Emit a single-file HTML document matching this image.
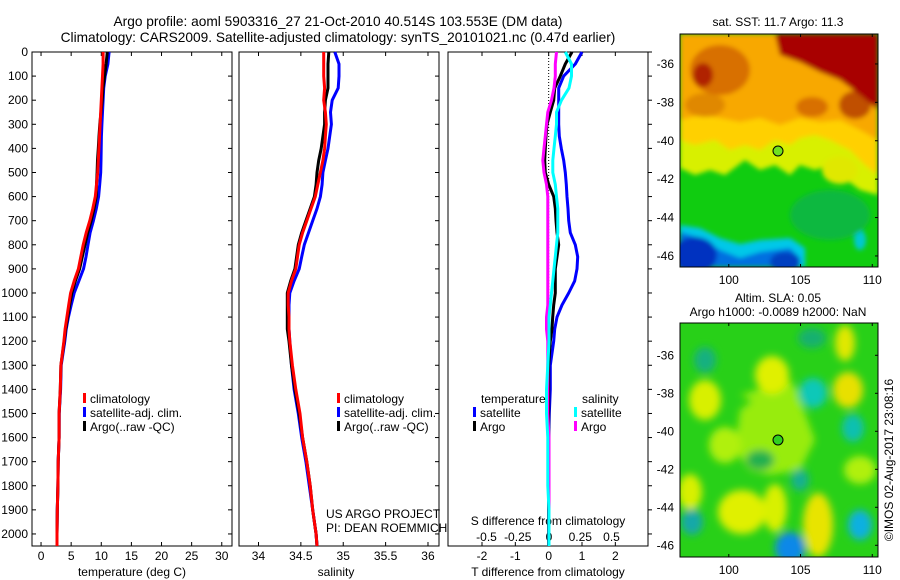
<!DOCTYPE html>
<html><head><meta charset="utf-8">
<style>
html,body{margin:0;padding:0;background:#fff;}
svg{display:block;font-family:"Liberation Sans",sans-serif;}
text{fill:#000;}
</style></head>
<body>
<svg id="fig" width="900" height="580" viewBox="0 0 900 580" xmlns="http://www.w3.org/2000/svg">
<defs>
<filter id="blur1" x="-10%" y="-10%" width="120%" height="120%"><feGaussianBlur stdDeviation="2.5"/></filter>
<filter id="blur2" x="-20%" y="-20%" width="140%" height="140%"><feGaussianBlur stdDeviation="4"/></filter>
<clipPath id="clipTop"><rect x="680" y="34" width="198" height="233"/></clipPath>
<clipPath id="clipBot"><rect x="680" y="323" width="198" height="234"/></clipPath>
</defs>
<text x="338" y="26" font-size="13.7" text-anchor="middle">Argo profile: aoml 5903316_27 21-Oct-2010 40.514S 103.553E (DM data)</text>
<text x="338" y="42" font-size="13.7" text-anchor="middle">Climatology: CARS2009. Satellite-adjusted climatology: synTS_20101021.nc (0.47d earlier)</text>
<g id="plots"></g>

<!-- SST map -->
<text x="778" y="26" font-size="12" text-anchor="middle">sat. SST: 11.7 Argo: 11.3</text>
<g clip-path="url(#clipTop)">
<rect x="680" y="34" width="198" height="233" fill="#10cc10"/>
<g filter="url(#blur1)">
<path d="M680,34 H878 V195 L860,190 L840,175 L830,165 L815,170 L800,165 L790,175 L775,165 L760,170 L745,160 L725,175 L710,170 L695,175 L680,168 Z" fill="#d8f000"/>
<path d="M680,34 H878 V175 L865,165 L850,150 L830,140 L815,135 L800,138 L790,145 L775,140 L760,150 L745,145 L730,150 L715,140 L695,145 L680,140 Z" fill="#ffd000"/>
<path d="M680,34 H878 V140 L860,130 L840,120 L820,122 L800,118 L780,125 L760,118 L740,122 L720,118 L700,115 L680,120 Z" fill="#f8a800"/>
<ellipse cx="720" cy="70" rx="30" ry="25" fill="#d87000"/>
<ellipse cx="705" cy="105" rx="20" ry="12" fill="#e08800"/>
<ellipse cx="812" cy="107" rx="16" ry="10" fill="#d87000"/>
<ellipse cx="855" cy="105" rx="16" ry="14" fill="#c05000"/>
<path d="M775,34 H878 V110 L860,95 L840,80 L820,72 L800,62 L780,55 Z" fill="#a80000"/>
<ellipse cx="703" cy="75" rx="10" ry="12" fill="#b02000"/>
<ellipse cx="840" cy="170" rx="18" ry="14" fill="#e0e800"/>
<path d="M680,225 L700,228 L720,238 L740,244 L760,240 L790,238 L805,248 L805,267 H680 Z" fill="#00c8e8"/>
<path d="M680,232 L700,238 L720,250 L740,258 L760,252 L790,248 L800,258 L800,267 H680 Z" fill="#0070e0"/>
<ellipse cx="695" cy="255" rx="22" ry="18" fill="#0030c0"/>
<ellipse cx="785" cy="262" rx="15" ry="10" fill="#0040c0"/>
<ellipse cx="860" cy="240" rx="6" ry="10" fill="#00c8d0"/>
<ellipse cx="830" cy="215" rx="40" ry="25" fill="#10b840"/>
</g>
</g>
<rect x="680" y="34" width="198" height="233" fill="none" stroke="#000"/>
<circle cx="778" cy="151" r="5" fill="#70e020" stroke="#000"/>

<!-- SLA map -->
<text x="778" y="302" font-size="12" text-anchor="middle">Altim. SLA: 0.05</text>
<text x="778" y="316" font-size="12" text-anchor="middle">Argo h1000: -0.0089 h2000: NaN</text>
<g clip-path="url(#clipBot)">
<rect x="680" y="323" width="198" height="234" fill="#28d018"/>
<g filter="url(#blur2)">
<path d="M740,410 L760,395 L780,380 L800,400 L815,440 L800,470 L770,475 L750,470 L735,450 Z" fill="#98ec10"/>
<path d="M740,395 L790,380 L800,395 L760,405 Z" fill="#98ec10"/>
<ellipse cx="772" cy="375" rx="17" ry="19" fill="#e0f000"/>
<ellipse cx="705" cy="400" rx="16" ry="20" fill="#d8f000"/>
<ellipse cx="848" cy="390" rx="15" ry="18" fill="#e8e000"/>
<ellipse cx="845" cy="343" rx="10" ry="18" fill="#e0e800"/>
<ellipse cx="725" cy="445" rx="16" ry="18" fill="#b0f010"/>
<ellipse cx="742" cy="512" rx="24" ry="22" fill="#e0f000"/>
<ellipse cx="775" cy="508" rx="12" ry="24" fill="#d8f000"/>
<ellipse cx="818" cy="525" rx="15" ry="32" fill="#e8e400"/>
<ellipse cx="690" cy="492" rx="12" ry="18" fill="#d8f000"/>
<ellipse cx="860" cy="470" rx="16" ry="14" fill="#b0f010"/>
<ellipse cx="705" cy="360" rx="11" ry="13" fill="#18b080"/>
<ellipse cx="813" cy="393" rx="14" ry="15" fill="#10c8b8"/>
<ellipse cx="853" cy="428" rx="11" ry="14" fill="#10c0b0"/>
<ellipse cx="790" cy="548" rx="15" ry="16" fill="#1088e8"/>
<ellipse cx="860" cy="525" rx="12" ry="15" fill="#10b0e0"/>
<ellipse cx="692" cy="522" rx="11" ry="13" fill="#18a8a8"/>
<ellipse cx="800" cy="480" rx="9" ry="11" fill="#18b090"/>
<ellipse cx="812" cy="338" rx="14" ry="10" fill="#18b070"/>
<ellipse cx="760" cy="460" rx="14" ry="10" fill="#20b050"/>
</g>
</g>
<rect x="680" y="323" width="198" height="234" fill="none" stroke="#000"/>
<circle cx="778" cy="440" r="5" fill="#30d020" stroke="#000"/>
<text transform="translate(893,460) rotate(-90)" font-size="12" text-anchor="middle">©IMOS 02-Aug-2017 23:08:16</text>
<g id="maps-axes"></g>
</svg>
<script>
// ---- data ----
const depths = [0,50,100,150,200,250,300,350,400,450,500,550,600,650,700,750,800,850,900,950,1000,1050,1100,1150,1200,1300,1400,1500,1600,1700,1800,1900,2000,2050];
const tempClim = [10.3,10.3,10.2,10.1,10.0,9.9,9.8,9.7,9.6,9.5,9.4,9.2,9.0,8.6,8.1,7.5,7.0,6.6,6.2,5.5,4.9,4.6,4.3,4.0,3.8,3.3,3.2,3.0,3.0,2.85,2.8,2.7,2.65,2.65];
const tempSatDiff = [1.0,0.8,0.45,0.3,0.3,0.3,0.3,0.32,0.38,0.45,0.5,0.53,0.55,0.58,0.6,0.65,0.8,0.87,0.85,0.78,0.6,0.4,0.25,0.18,0.15,0.05,0.05,0.02,0.0,0.0,0.0,0.0,0.0,0.0];
const tempArgoDiff = [0.7,0.5,0.35,0.18,0.15,0.05,-0.05,-0.08,-0.1,-0.12,-0.1,0.0,0.15,0.2,0.22,0.25,0.3,0.25,0.2,0.2,0.2,0.15,0.12,0.1,0.05,0.0,0.0,0.0,0.0,0.0,0.0,0.0,0.0,0.0];
const salClim = [34.77,34.77,34.77,34.78,34.77,34.79,34.8,34.79,34.78,34.76,34.73,34.7,34.67,34.62,34.57,34.52,34.48,34.46,34.44,34.39,34.35,34.35,34.36,34.36,34.37,34.4,34.44,34.49,34.52,34.57,34.61,34.64,34.68,34.69];
const salSatDiff = [0.13,0.18,0.18,0.16,0.1,0.06,0.06,0.05,0.04,0.03,0.03,0.05,0.06,0.07,0.07,0.07,0.06,0.05,0.04,0.03,0.02,0.01,0.0,0.0,0.0,-0.01,-0.02,-0.02,-0.01,-0.01,-0.01,0.0,0.0,0.0];
const salArgoDiff = [0.06,0.05,0.05,0.04,0.02,-0.01,-0.02,-0.03,-0.04,-0.05,-0.04,-0.02,-0.01,-0.01,-0.01,-0.01,-0.01,-0.01,-0.01,-0.01,-0.01,-0.01,-0.02,-0.02,-0.01,-0.01,-0.01,-0.01,0.0,0.0,0.0,0.0,0.0,0.0];
const depthTicks = [0,100,200,300,400,500,600,700,800,900,1000,1100,1200,1300,1400,1500,1600,1700,1800,1900,2000];
const tempTicks = [0,5,10,15,20,25,30];
const salTicks = [34,34.5,35,35.5,36];
const tDiffTicks = [-2,-1,0,1,2];
const sDiffTicks = [-0.5,-0.25,0,0.25,0.5];
const lonTicks = [100,105,110];
const latTicks = [-36,-38,-40,-42,-44,-46];

const NS='http://www.w3.org/2000/svg';
const g=document.getElementById('plots');
function mk(tag,attrs,parent){const e=document.createElementNS(NS,tag);for(const k in attrs)e.setAttribute(k,attrs[k]);(parent||g).appendChild(e);return e;}
function txt(x,y,s,size,anchor,parent){const t=mk('text',{x:x,y:y,'font-size':size,'text-anchor':anchor||'start'},parent);t.textContent=s;return t;}

const Y0=52,Y1=546;
const yScale=d=>Y0+(d/2050)*(Y1-Y0);
function xs(x0,x1,v0,v1){return v=>x0+(v-v0)/(v1-v0)*(x1-x0);}
const xT=xs(32,232,-1.5,31.7);
const xS=xs(239,439,33.77,36.13);
const xTD=xs(448,648,-3.02,2.98);
const xSD=v=>549+v*125;

function box(x0,x1,name){const r=mk('rect',{x:x0,y:Y0,width:x1-x0,height:Y1-Y0,fill:'none',stroke:'#000'});

}
function line(vals,sx,color,name){
  let d='';vals.forEach((v,i)=>{d+=(i?'L':'M')+sx(v).toFixed(1)+','+yScale(depths[i]).toFixed(1);});
  const p=mk('path',{d:d,fill:'none',stroke:color,'stroke-width':3,'stroke-linejoin':'round'});
  
  
}
const tempSat=tempClim.map((v,i)=>v+tempSatDiff[i]);
const tempArgo=tempClim.map((v,i)=>v+tempArgoDiff[i]);
const salSat=salClim.map((v,i)=>v+salSatDiff[i]);
const salArgo=salClim.map((v,i)=>v+salArgoDiff[i]);

box(32,232,'temperature-panel');box(239,439,'salinity-panel');box(448,648,'difference-panel');
depthTicks.forEach(d=>{const y=yScale(d);
  const t=txt(28,y+4,String(d),12,'end');
  
  
  mk('line',{x1:32,x2:36,y1:y,y2:y,stroke:'#000'});
  mk('line',{x1:228,x2:232,y1:y,y2:y,stroke:'#000'});
  mk('line',{x1:435,x2:439,y1:y,y2:y,stroke:'#000'});
  mk('line',{x1:648,x2:652,y1:y,y2:y,stroke:'#000'});
});
tempTicks.forEach(v=>{const x=xT(v);mk('line',{x1:x,x2:x,y1:Y0,y2:Y0+4,stroke:'#000'});mk('line',{x1:x,x2:x,y1:Y1,y2:Y1-4,stroke:'#000'});
  const t=txt(x,560,String(v),12,'middle');
  
  });
salTicks.forEach(v=>{const x=xS(v);mk('line',{x1:x,x2:x,y1:Y0,y2:Y0+4,stroke:'#000'});mk('line',{x1:x,x2:x,y1:Y1,y2:Y1-4,stroke:'#000'});
  const t=txt(x,560,String(v),12,'middle');
  
  });
tDiffTicks.forEach(v=>{const x=xTD(v);mk('line',{x1:x,x2:x,y1:Y0,y2:Y0+4,stroke:'#000'});mk('line',{x1:x,x2:x,y1:Y1,y2:Y1-4,stroke:'#000'});
  const t=txt(x,560,String(v),12,'middle');
  
  });
sDiffTicks.forEach(v=>{const t=txt(xSD(v),541,String(v),12,'middle');
  
  });
let at;
at=txt(132,576,'temperature (deg C)',12,'middle');
at=txt(336,576,'salinity',12,'middle');
at=txt(548,576,'T difference from climatology',12,'middle');
at=txt(548,525,'S difference from climatology',12,'middle');
const zl=mk('line',{x1:xTD(0),x2:xTD(0),y1:Y0,y2:Y1,stroke:'#000','stroke-dasharray':'1,2'});



line(tempSat,xT,'#0000ff','temp-satellite-line');
line(tempArgo,xT,'#000','temp-argo-line');
line(tempClim,xT,'#ff0000','temp-climatology-line');
line(salSat,xS,'#0000ff','salinity-satellite-line');
line(salArgo,xS,'#000','salinity-argo-line');
line(salClim,xS,'#ff0000','salinity-climatology-line');
line(tempSatDiff,xTD,'#0000ff','t-diff-satellite-line');
line(tempArgoDiff,xTD,'#000','t-diff-argo-line');
line(salArgoDiff,xSD,'#ff00ff','s-diff-argo-line');
line(salSatDiff,xSD,'#00ffff','s-diff-satellite-line');

function leg(x,y,color,label,name){const r=mk('rect',{x:x,y:y-10,width:3,height:10,fill:color});
  
  const t=txt(x+7,y,label,12,'start');}
leg(83,403,'#ff0000','climatology','legend-temp-climatology');
leg(83,417,'#0000ff','satellite-adj. clim.','legend-temp-satellite');
leg(83,431,'#000','Argo(..raw -QC)','legend-temp-argo');
leg(337,403,'#ff0000','climatology','legend-sal-climatology');
leg(337,417,'#0000ff','satellite-adj. clim.','legend-sal-satellite');
leg(337,431,'#000','Argo(..raw -QC)','legend-sal-argo');
at=txt(481,403,'temperature',12);
at=txt(582,403,'salinity',12);
leg(473,417,'#0000ff','satellite','legend-tdiff-satellite');
leg(473,431,'#000','Argo','legend-tdiff-argo');
leg(574,417,'#00ffff','satellite','legend-sdiff-satellite');
leg(574,431,'#ff00ff','Argo','legend-sdiff-argo');
at=txt(326,518,'US ARGO PROJECT',12);
at=txt(326,532,'PI: DEAN ROEMMICH',12);

const ma=document.getElementById('maps-axes');
const lonX=v=>680+(v-96.6)/(110.4-96.6)*198;
[[34,267,284,-34.44,19.2],[323,557,574,-34.3,19.0]].forEach(([top,bot,ly,lat0,ppd])=>{
  lonTicks.forEach(v=>{const x=lonX(v);mk('line',{x1:x,x2:x,y1:top,y2:top+3,stroke:'#000'},ma);mk('line',{x1:x,x2:x,y1:bot,y2:bot-3,stroke:'#000'},ma);
    const t=txt(x,ly,String(v),12,'middle',ma);});
  latTicks.forEach(v=>{const y=top+(lat0-v)*ppd;mk('line',{x1:878,x2:875,y1:y,y2:y,stroke:'#000'},ma);
    const t=txt(674,y+4,String(v),12,'end',ma);});
});
</script>
</body></html>
